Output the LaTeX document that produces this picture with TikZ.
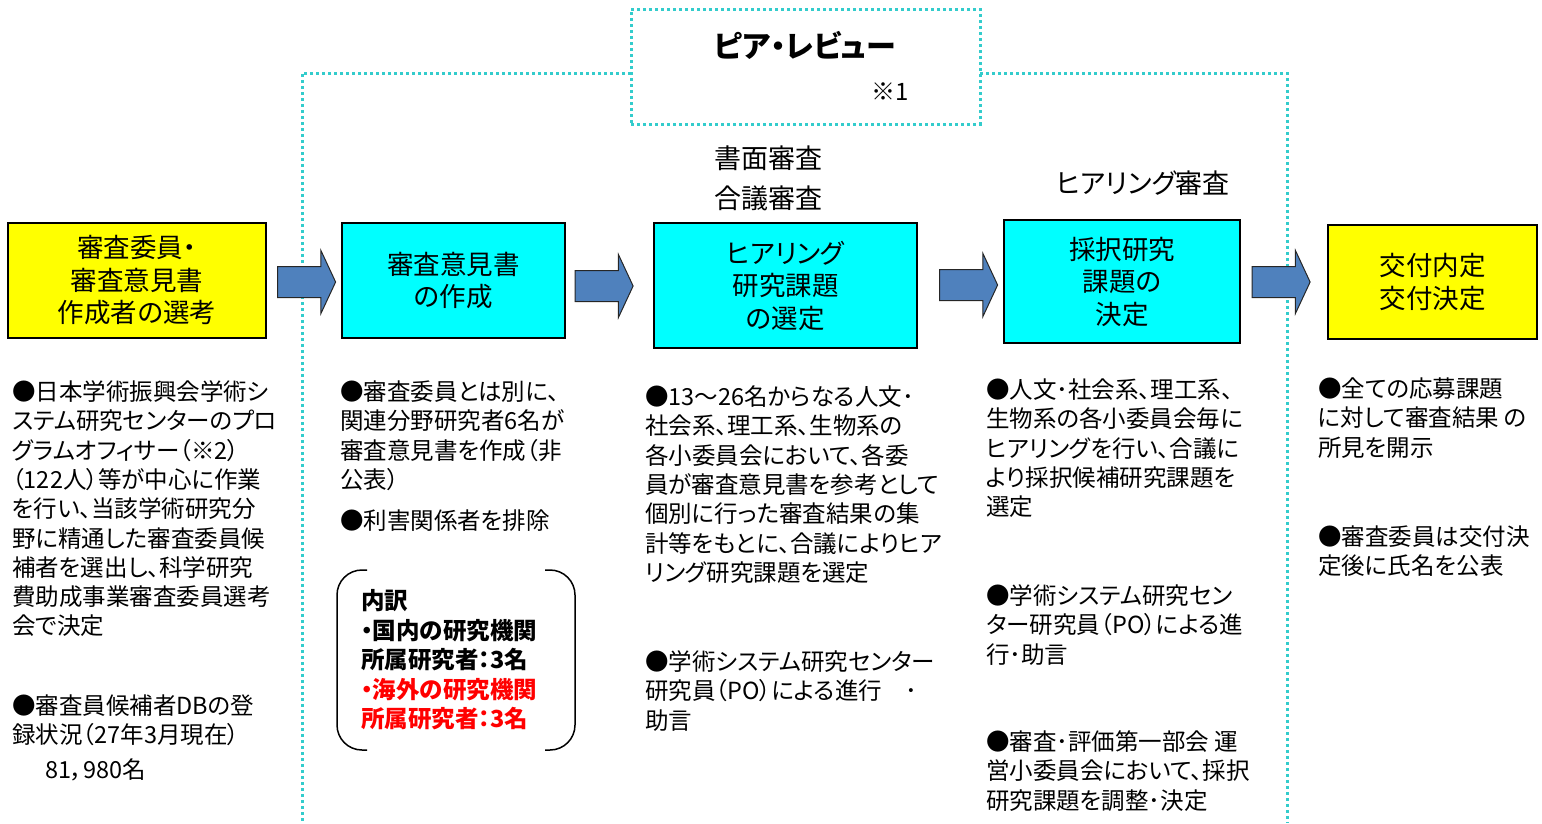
\documentclass[tikz,border=0pt]{standalone}
\usepackage{fontspec}
\setmainfont{Noto Sans CJK JP}[RawFeature=+palt]
\usetikzlibrary{shapes.arrows}

\definecolor{boxyellow}{RGB}{255,255,0}
\definecolor{boxcyan}{RGB}{0,255,255}
\definecolor{arrowblue}{RGB}{79,129,189}
\definecolor{frameteal}{RGB}{51,204,204}
\definecolor{notered}{RGB}{255,0,0}

\tikzset{
  stage/.style={draw=black, line width=1.5, inner sep=0, align=center,
    font=\fontsize{26.5}{32.5}\selectfont},
  flowarrow/.style={single arrow, draw=black!85, fill=arrowblue, line width=1,
    minimum height=58, inner xsep=0, inner ysep=15, single arrow head extend=16,
    single arrow tip angle=130},
  note/.style={anchor=north west, inner sep=0, align=left,
    font=\fontsize{23.5}{29.3}\selectfont},
  heading/.style={inner sep=0, font=\fontsize{27}{32}\selectfont},
  frame/.style={draw=frameteal, line width=3, dash pattern=on 3 off 3},
}

\begin{document}
\begin{tikzpicture}[x=1pt,y=-1pt]
\useasboundingbox (0,0) rectangle (1542,823);

% peer review frame
\draw[frame] (631,73) -- (302,73) -- (302,823);
\draw[frame] (980,73) -- (1287,73) -- (1287,823);
\node (peer) at (805.5,66.5) [frame, minimum width=349, minimum height=115] {};
\node (peerlabel) at (805,45) [heading, font=\fontsize{30}{34}\selectfont\bfseries] {ピア・レビュー};
\node (peernote) at (890,92) [heading, font=\fontsize{24}{28}\selectfont] {※1};

\node (shomen) at (768,158) [heading] {書面審査};
\node (gougi) at (768,198) [heading] {合議審査};
\node (hearing) at (1143,183) [heading] {ヒアリング審査};

% stages
\node (select) at (137,280.5) [stage, fill=boxyellow, minimum width=258, minimum height=115] {審査委員・\\審査意見書\\作成者の選考};
\node (opinion) at (453.5,280.5) [stage, fill=boxcyan, minimum width=223, minimum height=115] {審査意見書\\の作成};
\node (choose) at (785.5,285.5) [stage, fill=boxcyan, minimum width=263, minimum height=125] {ヒアリング\\研究課題\\の選定};
\node (adopt) at (1122,281.5) [stage, fill=boxcyan, minimum width=236, minimum height=123] {採択研究\\課題の\\決定};
\node (grant) at (1432.5,282) [stage, fill=boxyellow, minimum width=209, minimum height=114] {交付内定\\交付決定};

\node (arrow1) at (303,282) [flowarrow] {};
\node (arrow2) at (600.5,286) [flowarrow] {};
\node (arrow3) at (965,285) [flowarrow] {};
\node (arrow4) at (1277.5,282) [flowarrow] {};

% notes
\node (selectnote) at (12,380.5) [note] {●日本学術振興会学術シ\\ステム研究センターのプロ\\グラムオフィサー（※2）\\（122人）等が中心に作業\\を行い、当該学術研究分\\野に精通した審査委員候\\補者を選出し、科学研究\\費助成事業審査委員選考\\会で決定};
\node (dbnote) at (12,694.5) [note] {●審査員候補者DBの登\\録状況（27年3月現在）\\[5pt]\hspace*{33pt}81，980名};

\node (opinionnote) at (340,380.5) [note] {●審査委員とは別に、\\関連分野研究者6名が\\審査意見書を作成（非\\公表）};
\node (conflict) at (340,509.5) [note] {●利害関係者を排除};
\node (breakdown) at (361,589.5) [note, font=\fontsize{23.5}{29.5}\selectfont\bfseries] {内訳\\・国内の研究機関\\所属研究者：3名\\\textcolor{notered}{・海外の研究機関}\\\textcolor{notered}{所属研究者：3名}};
\draw[line width=1.5, rounded corners=25] (367,570) -- (337,570) -- (337,750) -- (367,750);
\draw[line width=1.5, rounded corners=25] (545,570) -- (575,570) -- (575,750) -- (545,750);

\node (choosenote) at (645,385.5) [note] {●13～26名からなる人文･\\社会系、理工系、生物系の\\各小委員会において、各委\\員が審査意見書を参考として\\個別に行った審査結果の集\\計等をもとに、合議によりヒア\\リング研究課題を選定};
\node (ponote1) at (645,650.5) [note] {●学術システム研究センター\\研究員（PO）による進行　･\\助言};

\node (adoptnote) at (986,378.5) [note] {●人文･社会系、理工系、\\生物系の各小委員会毎に\\ヒアリングを行い、合議に\\より採択候補研究課題を\\選定};
\node (ponote2) at (986,584.5) [note] {●学術システム研究セン\\ター研究員（PO）による進\\行･助言};
\node (boardnote) at (986,730.5) [note] {●審査･評価第一部会 運\\営小委員会において、採択\\研究課題を調整･決定};

\node (grantnote) at (1318,377.5) [note] {●全ての応募課題\\に対して審査結果 の\\所見を開示};
\node (namenote) at (1318,525.5) [note] {●審査委員は交付決\\定後に氏名を公表};
\end{tikzpicture}
\end{document}
